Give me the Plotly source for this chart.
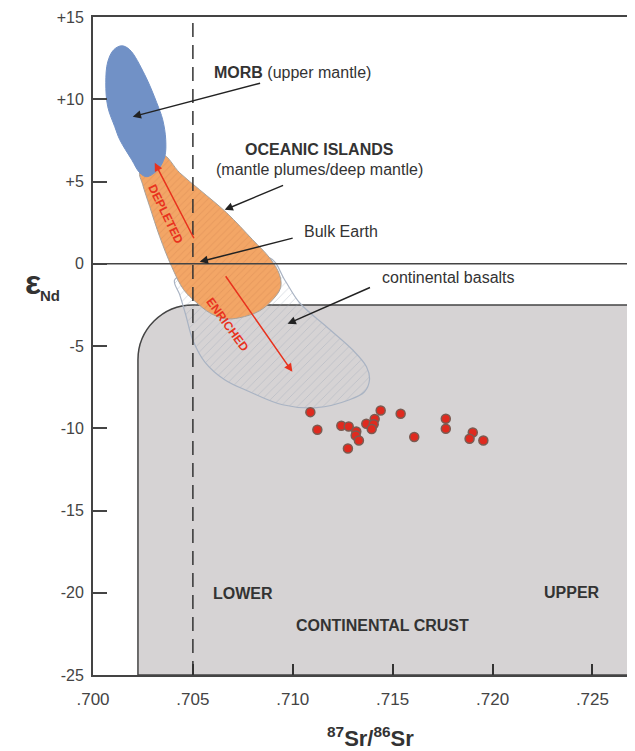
import plotly.graph_objects as go

# ---------------- data ----------------
morb_x = [0.70064, 0.70074, 0.70109, 0.70134, 0.70194, 0.70234, 0.70269, 0.70324, 0.70359,
          0.70364, 0.70349, 0.70319, 0.70259, 0.70184, 0.70144, 0.70104, 0.70074, 0.70064]
morb_y = [11.0, 9.54, 8.33, 7.54, 6.32, 5.53, 5.29, 5.71, 6.50,
          7.54, 8.75, 9.79, 11.49, 13.01, 13.25, 13.01, 12.28, 11.0]

oib_x = [0.70234, 0.70284, 0.70349, 0.70434, 0.70534, 0.70669, 0.70799, 0.70884, 0.70934, 0.70939,
         0.70899, 0.70834, 0.70734, 0.70659, 0.70584, 0.70519, 0.70454, 0.70394, 0.70334, 0.70284,
         0.70249, 0.70234]
oib_y = [5.59, 6.02, 6.63, 5.53, 4.50, 3.10, 1.46, 0.36, -0.67, -1.46,
         -2.19, -2.86, -3.28, -3.34, -2.98, -2.37, -1.58, -0.18, 1.64, 3.47,
         4.80, 5.59]

basalt_x = [0.70884, 0.70959, 0.71034, 0.71169, 0.71299, 0.71369, 0.71384, 0.71359, 0.71284,
            0.71119, 0.70949, 0.70784, 0.70659, 0.70559, 0.70499, 0.70464, 0.70434, 0.70409,
            0.70600, 0.70884]
basalt_y = [0.36, -0.97, -2.37, -3.83, -5.23, -6.26, -7.05, -7.78, -8.27,
            -8.75, -8.57, -7.78, -7.05, -5.96, -4.62, -3.10, -1.88, -0.97,
            -0.50, 0.36]

sample_x = [0.71088, 0.71123, 0.71243, 0.71280, 0.71318, 0.71315, 0.71331, 0.71276, 0.71368,
            0.71410, 0.71405, 0.71395, 0.71440, 0.71540, 0.71608, 0.71766, 0.71766, 0.71901,
            0.71885, 0.71954]
sample_y = [-9.02, -10.09, -9.85, -9.89, -10.19, -10.44, -10.74, -11.23, -9.73,
            -9.44, -9.76, -10.05, -8.92, -9.12, -10.53, -9.42, -10.03, -10.26,
            -10.64, -10.74]

crust_left_x = 0.70225
crust_top_y = -2.5
crust_corner_rx = 0.00275
crust_corner_ry = 3.34
bulk_earth_sr = 0.705

x_tickvals = [0.700, 0.705, 0.710, 0.715, 0.720, 0.725]
x_ticktext = [".700", ".705", ".710", ".715", ".720", ".725"]
y_tickvals = [15, 10, 5, 0, -5, -10, -15, -20, -25]
y_ticktext = ["+15", "+10", "+5", "0", "-5", "-10", "-15", "-20", "-25"]

XMIN, XMAX = 0.700, 0.72673
YMIN, YMAX = -25, 15

FONT = "Liberation Sans, Arial, sans-serif"
TXT = "#333333"

fig = go.Figure()

# continental basalts (hatched)
fig.add_trace(go.Scatter(
    x=basalt_x, y=basalt_y, mode="lines", fill="toself",
    line=dict(color="#a9b3c3", width=1.2, shape="spline", smoothing=1),
    fillcolor="rgba(255,255,255,0)",
    fillpattern=dict(shape="/", fgcolor="#9ba4b4", size=6, solidity=0.12),
    hoverinfo="skip", showlegend=False))

# oceanic islands (orange, hatched)
fig.add_trace(go.Scatter(
    x=oib_x, y=oib_y, mode="lines", fill="toself",
    line=dict(color="#a8a19a", width=1, shape="spline", smoothing=1),
    fillcolor="#f2a262",
    fillpattern=dict(shape="/", fgcolor="#d98d56", bgcolor="#f3a666", size=5, solidity=0.18),
    hoverinfo="skip", showlegend=False))

# MORB (blue)
fig.add_trace(go.Scatter(
    x=morb_x, y=morb_y, mode="lines", fill="toself",
    line=dict(color="#7191c6", width=1, shape="spline", smoothing=1),
    fillcolor="#7191c6", hoverinfo="skip", showlegend=False))

# samples
fig.add_trace(go.Scatter(
    x=sample_x, y=sample_y, mode="markers",
    marker=dict(size=9, color="#df2a1f", line=dict(color="#7b5b52", width=1.5)),
    hoverinfo="skip", showlegend=False))

# continental crust (rounded corner) below traces
x0 = crust_left_x
xc = crust_left_x + crust_corner_rx
yc = crust_top_y - crust_corner_ry
k = 0.5523
path = (f"M {x0},{YMIN} L {x0},{yc} "
        f"C {x0},{yc + k*crust_corner_ry} {xc - k*crust_corner_rx},{crust_top_y} {xc},{crust_top_y} "
        f"L {XMAX + 0.01},{crust_top_y} L {XMAX + 0.01},{YMIN} Z")
fig.add_shape(type="path", path=path, xref="x", yref="y", layer="below",
              fillcolor="#d6d3d4", line=dict(color="#444444", width=1.5))

# zero line and Bulk Earth dashed line (above)
fig.add_shape(type="line", xref="x", yref="y", x0=XMIN, x1=XMAX + 0.01, y0=0, y1=0,
              line=dict(color="#444444", width=1.5), layer="above")
fig.add_shape(type="line", xref="x", yref="y", x0=bulk_earth_sr, x1=bulk_earth_sr, y0=YMIN, y1=YMAX,
              line=dict(color="#333333", width=1.5, dash="14px,8px"), layer="above")

# arrows (head x,y ; tail ax,ay)
black_arrows = [
    (0.70199, 8.94, 0.70844, 11.0),
    (0.70659, 3.28, 0.70959, 4.80),
    (0.70534, 0.12, 0.71007, 1.58),
    (0.70974, -3.65, 0.71394, -1.40),
]
for hx, hy, tx, ty in black_arrows:
    fig.add_annotation(x=hx, y=hy, ax=tx, ay=ty, xref="x", yref="y", axref="x", ayref="y",
                       text="", showarrow=True, arrowhead=2, arrowsize=1.1, arrowwidth=1.5,
                       arrowcolor="#222222")
red_arrows = [
    (0.70309, 6.14, 0.70509, 1.46),
    (0.70998, -6.57, 0.70659, -0.67),
]
for hx, hy, tx, ty in red_arrows:
    fig.add_annotation(x=hx, y=hy, ax=tx, ay=ty, xref="x", yref="y", axref="x", ayref="y",
                       text="", showarrow=True, arrowhead=2, arrowsize=1.1, arrowwidth=1.5,
                       arrowcolor="#e8321e")

def label(x, y, text, size=16, color=TXT, xanchor="center", angle=0):
    fig.add_annotation(x=x, y=y, xref="x", yref="y", text=text, showarrow=False,
                       xanchor=xanchor, yanchor="middle", textangle=angle,
                       font=dict(family=FONT, size=size, color=color))

label(0.70595, 11.61, "<b>MORB</b> (upper mantle)", xanchor="left")
label(0.71135, 6.93, "<b>OCEANIC ISLANDS</b>")
label(0.71135, 5.71, "(mantle plumes/deep mantle)")
label(0.71046, 1.95, "Bulk Earth", xanchor="left")
label(0.71435, -0.85, "continental basalts", xanchor="left")
label(0.70364, 3.04, "<b>DEPLETED</b>", size=12, color="#e8321e", angle=64)
label(0.70675, -3.71, "<b>ENRICHED</b>", size=12, color="#e8321e", angle=54)
label(0.70749, -20.06, "<b>LOWER</b>")
label(0.72399, -20.0, "<b>UPPER</b>")
label(0.71451, -22.0, "<b>CONTINENTAL CRUST</b>")

# axis titles (paper coords: plot area is 534 x 658 px)
fig.add_annotation(x=-0.112, y=0.598, xref="paper", yref="paper", text="<b>ε</b>",
                   showarrow=False, xanchor="center", yanchor="middle",
                   font=dict(family=FONT, size=34, color=TXT))
fig.add_annotation(x=-0.080, y=0.576, xref="paper", yref="paper", text="<b>Nd</b>",
                   showarrow=False, xanchor="center", yanchor="middle",
                   font=dict(family=FONT, size=15, color=TXT))
fig.add_annotation(x=0.519, y=-0.094, xref="paper", yref="paper",
                   text="<b><sup>87</sup>Sr/<sup>86</sup>Sr</b>",
                   showarrow=False, xanchor="center", yanchor="middle",
                   font=dict(family=FONT, size=22, color=TXT))

# the page body has an 8px margin, so the figure is sized/offset to fill the window
fig.update_layout(
    width=619, height=743,
    margin=dict(l=85, r=0, t=9, b=76, autoexpand=False),
    plot_bgcolor="white", paper_bgcolor="white",
    showlegend=False,
    xaxis=dict(range=[XMIN, XMAX], showgrid=False, zeroline=False, automargin=False,
               showline=True, linecolor="#444444", linewidth=2, mirror=True,
               tickmode="array", tickvals=x_tickvals, ticktext=x_ticktext,
               ticks="inside", ticklen=11, tickwidth=1.5, tickcolor="#333333",
               ticklabelstandoff=8,
               tickfont=dict(family=FONT, size=17, color="#444444")),
    yaxis=dict(range=[YMIN, YMAX], showgrid=False, zeroline=False, automargin=False,
               showline=True, linecolor="#444444", linewidth=2, mirror=False,
               tickmode="array", tickvals=y_tickvals, ticktext=y_ticktext,
               ticks="inside", ticklen=14, tickwidth=1.5, tickcolor="#444444",
               ticklabelstandoff=4,
               tickfont=dict(family=FONT, size=16, color="#444444")),
)

fig.write_html("out.html")
